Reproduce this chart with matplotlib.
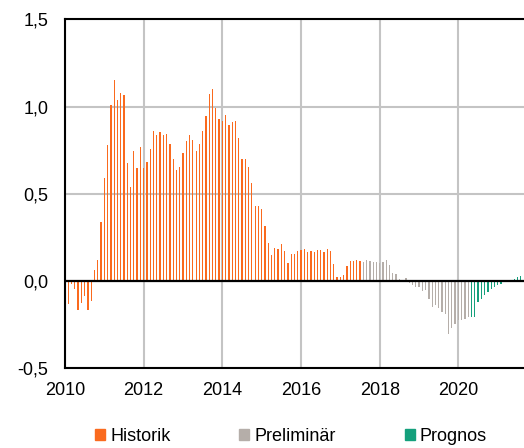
import numpy as np
import matplotlib
matplotlib.use('Agg')
import matplotlib.pyplot as plt
from matplotlib.patches import Patch

plt.rcParams['font.family'] = ['Liberation Sans', 'DejaVu Sans']

# månadsdata från jan 2010
historik = [-0.13, -0.02, -0.046, -0.167, -0.125, -0.088, -0.169, -0.113, 0.065, 0.117,
            0.337, 0.588, 0.778, 1.011, 1.151, 1.040, 1.077, 1.069, 0.678, 0.536,
            0.745, 0.649, 0.768, 0.649, 0.680, 0.755, 0.858, 0.835, 0.852, 0.835,
            0.843, 0.787, 0.697, 0.636, 0.655, 0.734, 0.801, 0.835, 0.810, 0.747,
            0.787, 0.858, 0.944, 1.073, 1.100, 0.992, 0.931, 0.920, 0.950, 0.893,
            0.910, 0.920, 0.822, 0.701, 0.701, 0.653, 0.561, 0.429, 0.427, 0.414,
            0.316, 0.220, 0.148, 0.188, 0.184, 0.211, 0.172, 0.103, 0.155, 0.157,
            0.174, 0.180, 0.184, 0.165, 0.172, 0.165, 0.178, 0.178, 0.165, 0.182,
            0.170, 0.098, 0.025, 0.025, 0.031, 0.084, 0.115, 0.115, 0.121, 0.115]
preliminar = [0.111, 0.119, 0.115, 0.107, 0.109, 0.105, 0.109, 0.121, 0.092, 0.048,
              0.042, 0.011, 0.006, 0.019, -0.015, -0.025, -0.034, -0.034, -0.057, -0.054,
              -0.102, -0.149, -0.136, -0.155, -0.178, -0.188, -0.303, -0.270, -0.245, -0.226,
              -0.226, -0.216, -0.207]
prognos = [-0.205, -0.209, -0.122, -0.102, -0.079, -0.062, -0.048, -0.035, -0.025, -0.016,
           -0.009, -0.004, 0.005, 0.012, 0.021, 0.028]

x_ticks = [2010, 2012, 2014, 2016, 2018, 2020]
y_ticks = [-0.5, 0.0, 0.5, 1.0, 1.5]
y_labels = ['-0,5', '0,0', '0,5', '1,0', '1,5']

c_hist = '#FA6A1E'
c_prel = '#B5AEA9'
c_prog = '#14A07C'

fig = plt.figure(figsize=(5.24, 4.48), dpi=100)
W, H = 524, 448
ax = fig.add_axes([65 / W, 80 / H, 470 / W, 348.5 / H])

n1 = len(historik)
n2 = len(preliminar)
n3 = len(prognos)
x1 = 2010 + (np.arange(n1) + 1) / 12
x2 = 2010 + (np.arange(n1, n1 + n2) + 1) / 12
x3 = 2010 + (np.arange(n1 + n2, n1 + n2 + n3) + 1) / 12

bw = 0.032
ax.bar(x1, historik, width=bw, color=c_hist, zorder=3)
ax.bar(x2, preliminar, width=bw, color=c_prel, zorder=3)
ax.bar(x3, prognos, width=bw, color=c_prog, zorder=3)

ax.axhline(0, color='black', lw=1.6, zorder=4)

ax.set_xlim(2010, 2010 + 470 / 39.34)
ax.set_ylim(-0.5, 1.5)
ax.set_xticks(x_ticks)
ax.set_yticks(y_ticks)
ax.set_yticklabels(y_labels)
ax.tick_params(axis='both', length=0, labelsize=13)
ax.tick_params(axis='x', pad=10)
ax.tick_params(axis='y', pad=12)

ax.grid(True, color='#C4C4C4', lw=1.5, zorder=0)
for s in ['left', 'top', 'bottom']:
    ax.spines[s].set_color('black')
    ax.spines[s].set_linewidth(1.5)
ax.spines['right'].set_visible(False)

handles = [Patch(color=c_hist, label='Historik'),
           Patch(color=c_prel, label='Preliminär'),
           Patch(color=c_prog, label='Prognos')]
fig.legend(handles=handles, loc='center', bbox_to_anchor=(291 / W, 1 - 436 / H),
           ncol=3, frameon=False, fontsize=13, handlelength=0.55, handleheight=0.55,
           handletextpad=0.3, columnspacing=3.8, borderpad=0)

fig.savefig('out.png', dpi=100)
